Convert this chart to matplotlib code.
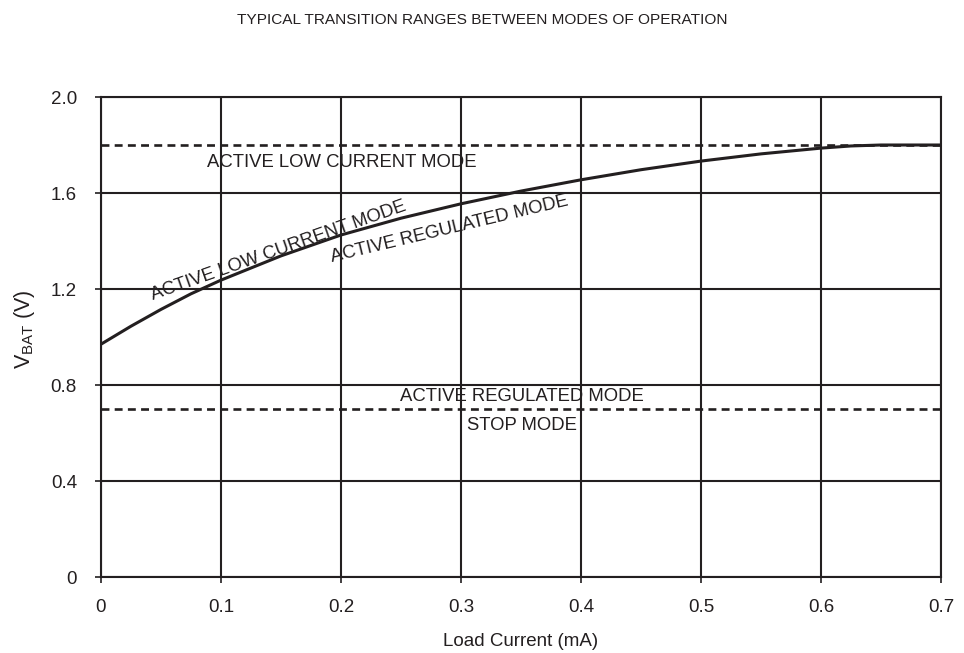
import matplotlib
matplotlib.use("Agg")
import matplotlib.pyplot as plt

plt.rcParams["font.family"] = ["Liberation Sans", "DejaVu Sans"]
plt.rcParams["mathtext.fontset"] = "custom"
plt.rcParams["mathtext.rm"] = "Liberation Sans"
plt.rcParams["mathtext.it"] = "Liberation Sans:italic"

INK = "#231f20"

# Boundary between active regulated and active low-current modes
load_current_ma = [0.0, 0.025, 0.05, 0.075, 0.10, 0.15, 0.20, 0.25, 0.30, 0.35,
                   0.40, 0.45, 0.50, 0.55, 0.60, 0.625, 0.65, 0.70]
vbat_boundary = [0.970, 1.045, 1.115, 1.180, 1.237, 1.338, 1.425, 1.495, 1.555, 1.608,
                 1.655, 1.697, 1.733, 1.763, 1.787, 1.796, 1.800, 1.800]

# Fixed thresholds
upper_threshold_v = 1.8
stop_threshold_v = 0.7

x_ticks = [0, 0.1, 0.2, 0.3, 0.4, 0.5, 0.6, 0.7]
x_tick_labels = ["0", "0.1", "0.2", "0.3", "0.4", "0.5", "0.6", "0.7"]
y_ticks = [0, 0.4, 0.8, 1.2, 1.6, 2.0]
y_tick_labels = ["0", "0.4", "0.8", "1.2", "1.6", "2.0"]

fig = plt.figure(figsize=(9.64, 6.53), dpi=100)
ax = fig.add_axes([101 / 964, 1 - 577 / 653, 840 / 964, 480 / 653])

ax.set_xlim(0, 0.7)
ax.set_ylim(0, 2.0)
ax.set_xticks(x_ticks)
ax.set_xticklabels(x_tick_labels)
ax.set_yticks(y_ticks)
ax.set_yticklabels(y_tick_labels)

for side in ("left", "bottom", "top", "right"):
    ax.spines[side].set_color(INK)
    ax.spines[side].set_linewidth(1.5)
ax.grid(True, color=INK, linewidth=1.5)
ax.set_axisbelow(True)
ax.tick_params(axis="both", direction="out", length=4.3, width=1.2,
               color=INK, labelcolor=INK, labelsize=13.5)
ax.tick_params(axis="x", pad=11.5)
ax.tick_params(axis="y", pad=13)

ax.plot(load_current_ma, vbat_boundary, color=INK, linewidth=2.2,
        solid_capstyle="butt", solid_joinstyle="round", zorder=3)
ax.plot([0, 0.7], [upper_threshold_v] * 2, color=INK, linewidth=1.9,
        dashes=(3.0, 2.0), zorder=3)
ax.plot([0, 0.7], [stop_threshold_v] * 2, color=INK, linewidth=1.9,
        dashes=(3.0, 2.0), zorder=3)

fs = 13.3
ax.text(0.088, 1.710, "ACTIVE LOW CURRENT MODE", fontsize=fs, color=INK,
        ha="left", va="baseline")
ax.text(0.249, 0.735, "ACTIVE REGULATED MODE", fontsize=fs, color=INK,
        ha="left", va="baseline")
ax.text(0.3053, 0.6125, "STOP MODE", fontsize=fs, color=INK,
        ha="left", va="baseline")
ax.text(0.0436, 1.154, "ACTIVE LOW CURRENT MODE", fontsize=fs, color=INK,
        ha="left", va="baseline", rotation=19.5, rotation_mode="anchor")
ax.text(0.1922, 1.3137, "ACTIVE REGULATED MODE", fontsize=fs, color=INK,
        ha="left", va="baseline", rotation=13.5, rotation_mode="anchor")

ax.set_xlabel("Load Current (mA)", fontsize=13.5, color=INK, va="baseline")
ax.xaxis.set_label_coords(0.5, -0.1437)
ax.set_ylabel(r"V$_{\mathrm{BAT}}$ (V)", fontsize=15.5, color=INK, va="baseline")
ax.yaxis.set_label_coords(-0.085, 0.517)

fig.text(0.5, 1 - 24 / 653, "TYPICAL TRANSITION RANGES BETWEEN MODES OF OPERATION",
         fontsize=11.1, color=INK, ha="center", va="baseline")

fig.savefig("out.png", dpi=100, facecolor="white")
